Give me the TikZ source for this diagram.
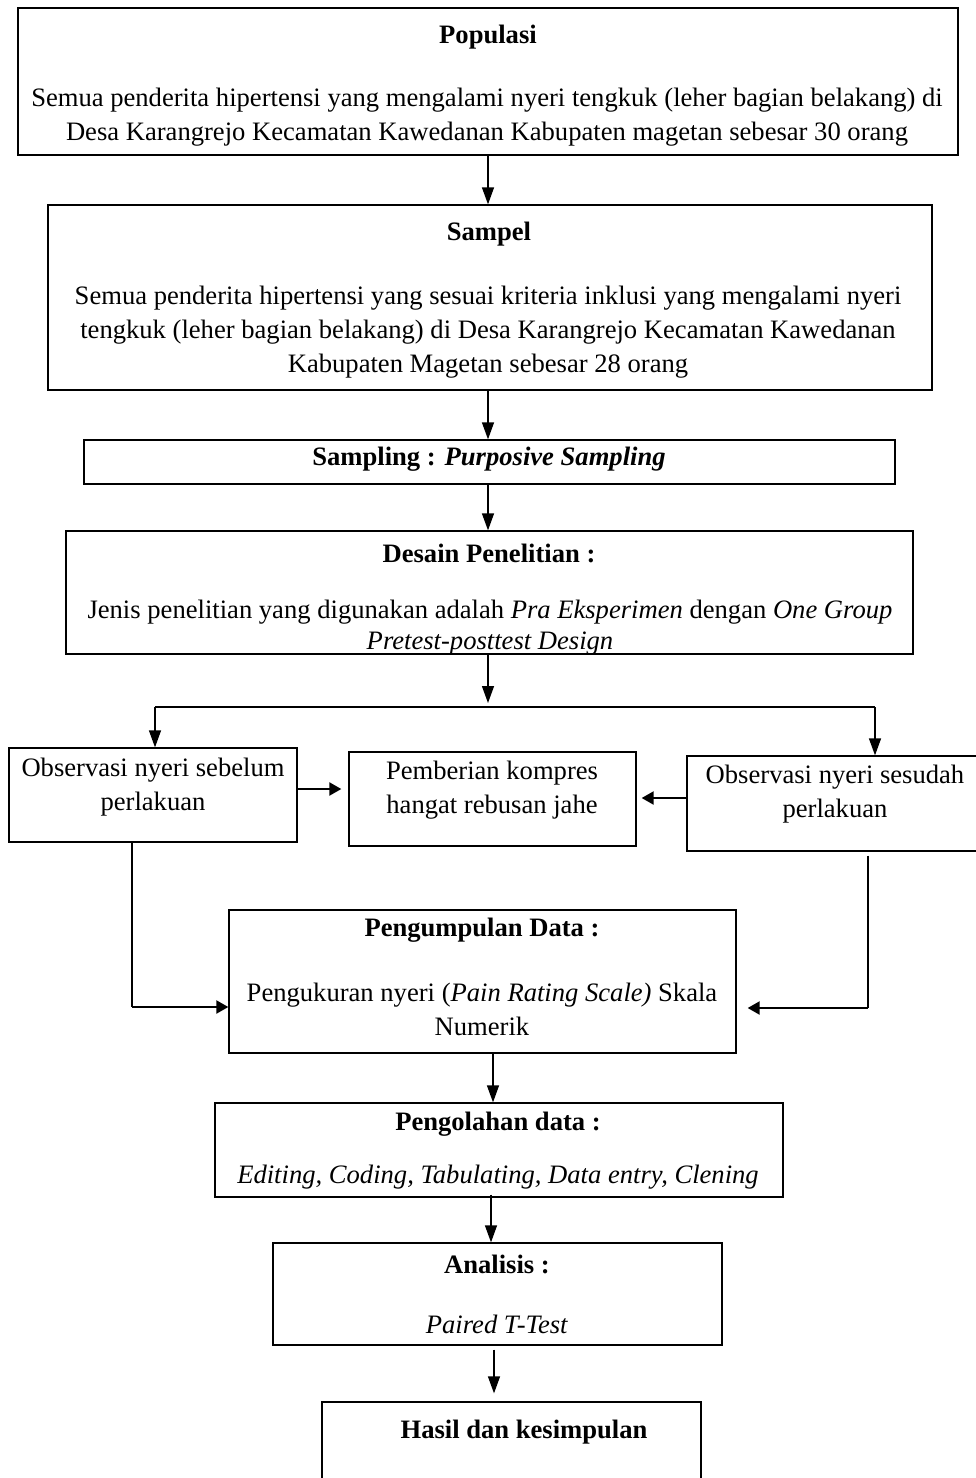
\documentclass[tikz,border=0pt]{standalone}
\usepackage{fontspec}
\setmainfont{Liberation Serif}
\usetikzlibrary{arrows.meta}
\newcommand{\fs}{\fontsize{26.6}{34}\selectfont}
\tikzset{
  box/.style={draw, line width=1.3pt, inner sep=0pt, rectangle},
  txt/.style={inner sep=0pt, align=center, font=\fs},
  arr/.style={line width=1.3pt, -{Triangle[length=17pt,width=12pt]}},
  harr/.style={line width=2.2pt, -{Triangle[length=12pt,width=13pt]}},
  ln/.style={line width=1.3pt}
}
\begin{document}
\begin{tikzpicture}[x=1pt,y=-1pt]
\useasboundingbox (0,0) rectangle (975,1478);
% boxes
\node[box, minimum width=940pt, minimum height=147pt] (pop) at (488,81.5) {};
\node[box, minimum width=884pt, minimum height=185pt] (sam) at (490,297.5) {};
\node[box, minimum width=811pt, minimum height=44pt] (smp) at (489.5,462) {};
\node[box, minimum width=847pt, minimum height=123pt] (des) at (489.5,592.5) {};
\node[box, minimum width=288pt, minimum height=94pt] (obsa) at (153,795) {};
\node[box, minimum width=287pt, minimum height=94pt] (kom) at (492.5,799) {};
\node[box, minimum width=298pt, minimum height=95pt] (obsb) at (836,803.5) {};
\node[box, minimum width=507pt, minimum height=143pt] (peng) at (482.5,981.5) {};
\node[box, minimum width=568pt, minimum height=94pt] (olah) at (499,1150) {};
\node[box, minimum width=449pt, minimum height=102pt] (ana) at (497.5,1294) {};
\node[box, minimum width=379pt, minimum height=88pt] (has) at (511.5,1446) {};
% texts
\node[txt] (popt) at (488,37) {\textbf{Populasi}};
\node[txt] (popb) at (487,117) {Semua penderita hipertensi yang mengalami nyeri tengkuk (leher bagian belakang) di\\Desa Karangrejo Kecamatan Kawedanan Kabupaten magetan sebesar 30 orang};
\node[txt] (samt) at (489,234) {\textbf{Sampel}};
\node[txt] (samb) at (488,332.5) {Semua penderita hipertensi yang sesuai kriteria inklusi yang mengalami nyeri\\tengkuk (leher bagian belakang) di Desa Karangrejo Kecamatan Kawedanan\\Kabupaten Magetan sebesar 28 orang};
\node[txt] (smpt) at (489,459) {\textbf{Sampling : \textit{Purposive Sampling}}};
\node[txt] (dest) at (489,553) {\textbf{Desain Penelitian :}};
\node[txt, font=\fontsize{26.6}{31}\selectfont] (desb) at (490,628) {Jenis penelitian yang digunakan adalah \textit{Pra Eksperimen} dengan \textit{One Group}\\\textit{Pretest-posttest Design}};
\node[txt] (obsat) at (153,787) {Observasi nyeri sebelum\\perlakuan};
\node[txt] (komt) at (492,790.5) {Pemberian kompres\\hangat rebusan jahe};
\node[txt] (obsbt) at (835,794.5) {Observasi nyeri sesudah\\perlakuan};
\node[txt] (pengt) at (482,930) {\textbf{Pengumpulan Data :}};
\node[txt] (pengb) at (482,1009) {Pengukuran nyeri (\textit{Pain Rating Scale)} Skala\\Numerik};
\node[txt] (olaht) at (498,1124) {\textbf{Pengolahan data :}};
\node[txt] (olahb) at (498,1177) {\textit{Editing, Coding, Tabulating, Data entry, Clening}};
\node[txt] (anat) at (497,1264) {\textbf{Analisis :}};
\node[txt] (anab) at (497,1324) {\textit{Paired T-Test}};
\node[txt] (hast) at (524,1432) {\textbf{Hasil dan kesimpulan}};
% connector coordinates
\coordinate (split) at (488,707);
\coordinate (hl) at (155,707);
\coordinate (hr) at (875,707);
\coordinate (ya) at (0,789);
\coordinate (yb) at (0,798);
\coordinate (ll) at (132,1007);
\coordinate (rr) at (868,1008);
% connectors
\draw[arr] (pop.south) -- (pop.south |- sam.north);
\draw[arr] (sam.south -| pop.south) -- (smp.north -| pop.south);
\draw[arr] (smp.south -| pop.south) -- (des.north -| pop.south);
\draw[arr] (des.south -| pop.south) -- ([yshift=4pt]split);
\draw[ln] (hl) -- (hr);
\draw[arr] (hl) -- (hl |- obsa.north);
\draw[arr] (hr) -- (hr |- obsb.north);
\draw[harr] (obsa.east |- ya) -- ([xshift=-7pt]kom.west |- ya);
\draw[harr] (obsb.west |- yb) -- ([xshift=5pt]kom.east |- yb);
\draw[ln] (ll |- obsa.south) -- (ll);
\draw[harr] (ll) -- (peng.west |- ll);
\draw[ln] ([yshift=-4pt]rr |- obsb.south) -- (rr);
\draw[harr] (rr) -- ([xshift=11pt]peng.east |- rr);
\draw[arr] (peng.south -| 493,0) -- (olah.north -| 493,0);
\draw[arr] ([yshift=3pt]olah.south -| 491,0) -- (ana.north -| 491,0);
\draw[arr] ([yshift=-4pt]ana.south -| 494,0) -- ([yshift=8pt]has.north -| 494,0);
\end{tikzpicture}
\end{document}
